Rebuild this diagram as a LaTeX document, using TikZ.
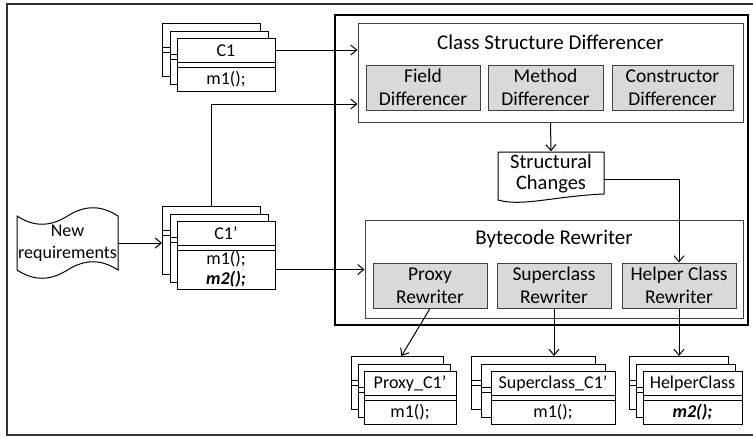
\documentclass[tikz,border=0pt]{standalone}
\usepackage{fontspec}
\setmainfont{Carlito}
\usetikzlibrary{arrows.meta,calc}
% #1 name, #2 x front, #3 y front, #4 width, #5 methods height, #6 dx, #7 dy, #8 class text, #9 methods text
\newcommand{\umlstack}[9]{%
  \node[cbox, minimum width=#4pt, minimum height=29pt+#5pt] (#1b) at (#2-2*#6, #3-2*#7) {};
  \draw[cline] ([yshift=-24pt]#1b.north west) -- ([yshift=-24pt]#1b.north east);
  \draw[cline] ([yshift=-29pt]#1b.north west) -- ([yshift=-29pt]#1b.north east);
  \node[cbox, minimum width=#4pt, minimum height=29pt+#5pt] (#1c) at (#2-#6, #3-#7) {};
  \draw[cline] ([yshift=-24pt]#1c.north west) -- ([yshift=-24pt]#1c.north east);
  \draw[cline] ([yshift=-29pt]#1c.north west) -- ([yshift=-29pt]#1c.north east);
  \node[cbox, minimum width=#4pt, minimum height=29pt+#5pt] (#1) at (#2, #3) {};
  \draw[cline] ([yshift=-24pt]#1.north west) -- ([yshift=-24pt]#1.north east);
  \draw[cline] ([yshift=-29pt]#1.north west) -- ([yshift=-29pt]#1.north east);
  \node[ctext] (#1t) at (#2+#4/2, #3+12.5) {#8};
  \node[ctext] (#1u) at (#2+#4/2, #3+29+#5/2) {#9};
  \coordinate (#1n) at (#2+#4, #3+12);
  \coordinate (#1m) at (#2+#4, #3+29+#5/2);
}
\begin{document}
\begin{tikzpicture}[x=1pt,y=-1pt,
  cline/.style={draw=black, line width=0.9pt},
  cbox/.style={draw=black, line width=0.9pt, fill=white, anchor=north west, inner sep=0pt},
  ctext/.style={font=\fontsize{18}{20}\selectfont, align=center, inner sep=0pt},
  group/.style={draw=black!75, line width=1pt, inner sep=0pt},
  comp/.style={draw=black!75, fill=black!15, line width=1pt, inner sep=0pt,
    minimum width=114pt, minimum height=45pt, align=center, font=\fontsize{19.5}{23}\selectfont},
  ttl/.style={font=\fontsize{21}{24}\selectfont, inner sep=0pt},
  arr/.style={draw=black, line width=1pt, -{Straight Barb[length=6pt,width=10pt]}},
  shapeline/.style={draw=black, line width=1pt, fill=white},
]
\useasboundingbox (0,0) rectangle (753,437);
% outer frame
\draw[draw=black!80, line width=1.2pt] (753,4) -- (7,4) -- (7,435) -- (753,435);

% core thick box
\node[draw=black, line width=2.6pt, minimum width=413pt, minimum height=310pt, inner sep=0pt] (core) at (541.5,170) {};

% Class Structure Differencer
\node[group, minimum width=385pt, minimum height=99pt] (CSD) at (550.5,72.5) {};
\node[ttl] (CSDt) at (550.5,42) {Class Structure Differencer};
\node[comp] (FD) at (423,87.5) {Field\\Differencer};
\node[comp, minimum width=115pt] (MD) at (545.5,87.5) {Method\\Differencer};
\node[comp, minimum width=121pt] (CD) at (672.5,87.5) {Constructor\\Differencer};

% Structural changes document
\draw[shapeline] (498,152) -- (604,152) -- (604,194) .. controls (555,196) and (522,207) .. (498,200) -- cycle;
\node[ctext, font=\fontsize{20.5}{20.5}\selectfont, minimum width=106pt, minimum height=44pt] (SC) at (551,173.5) {Structural\\Changes};

% Bytecode Rewriter
\node[group, minimum width=378pt, minimum height=98pt] (BR) at (554,269) {};
\node[ttl] (BRt) at (554,239) {Bytecode Rewriter};
\node[comp] (PR) at (430,285.5) {Proxy\\Rewriter};
\node[comp] (SR) at (554,285.5) {Superclass\\Rewriter};
\node[comp] (HR) at (679,285.5) {Helper Class\\Rewriter};

% New requirements punched tape
\draw[shapeline] (17,216) .. controls (34,227) and (50,227) .. (67.5,216)
  .. controls (85,205) and (101,205) .. (118,216)
  -- (118,270) .. controls (101,259) and (85,259) .. (67.5,270)
  .. controls (50,281) and (34,281) .. (17,270) -- cycle;
\node[ctext, font=\fontsize{18}{22}\selectfont, minimum width=101pt, minimum height=50pt] (NR) at (67.5,243) {New\\requirements};

% class stacks
\umlstack{Cone}{177}{38}{98}{24}{7.5}{7.5}{C1}{m1();}
\umlstack{Cp}{177}{221}{98}{39}{7.5}{7.5}{C1’}{m1();\\\textbf{\textit{m2();}}}
\umlstack{Px}{364}{371}{92}{24}{6.5}{7.5}{Proxy\_C1’}{m1();}
\umlstack{Sc}{491}{371}{124}{24}{10}{7.5}{Superclass\_C1’}{m1();}
\umlstack{Hc}{643}{371}{99}{24}{7}{7.5}{HelperClass}{\textbf{\textit{m2();}}}

% connectors
\coordinate (in2) at (0,104);
\draw[arr] (Conen) -- (CSD.west |- Conen);
\draw[arr] (Cpb.north) |- (CSD.west |- in2);
\draw[arr] (NR.east) -- (Cpb.west |- NR.east);
\draw[arr] (Cpm) -- (BR.west |- Cpm);
\draw[arr] (CSD.south) -- (SC.north);
\draw[arr] ([yshift=-5.5pt]SC.east) -| (HR.north);
\draw[arr] (PR.south) -- ([xshift=4pt]Pxb.north);
\draw[arr] (SR.south) -- (SR.south |- Scb.north);
\draw[arr] (HR.south) -- (HR.south |- Hcb.north);
\end{tikzpicture}
\end{document}
